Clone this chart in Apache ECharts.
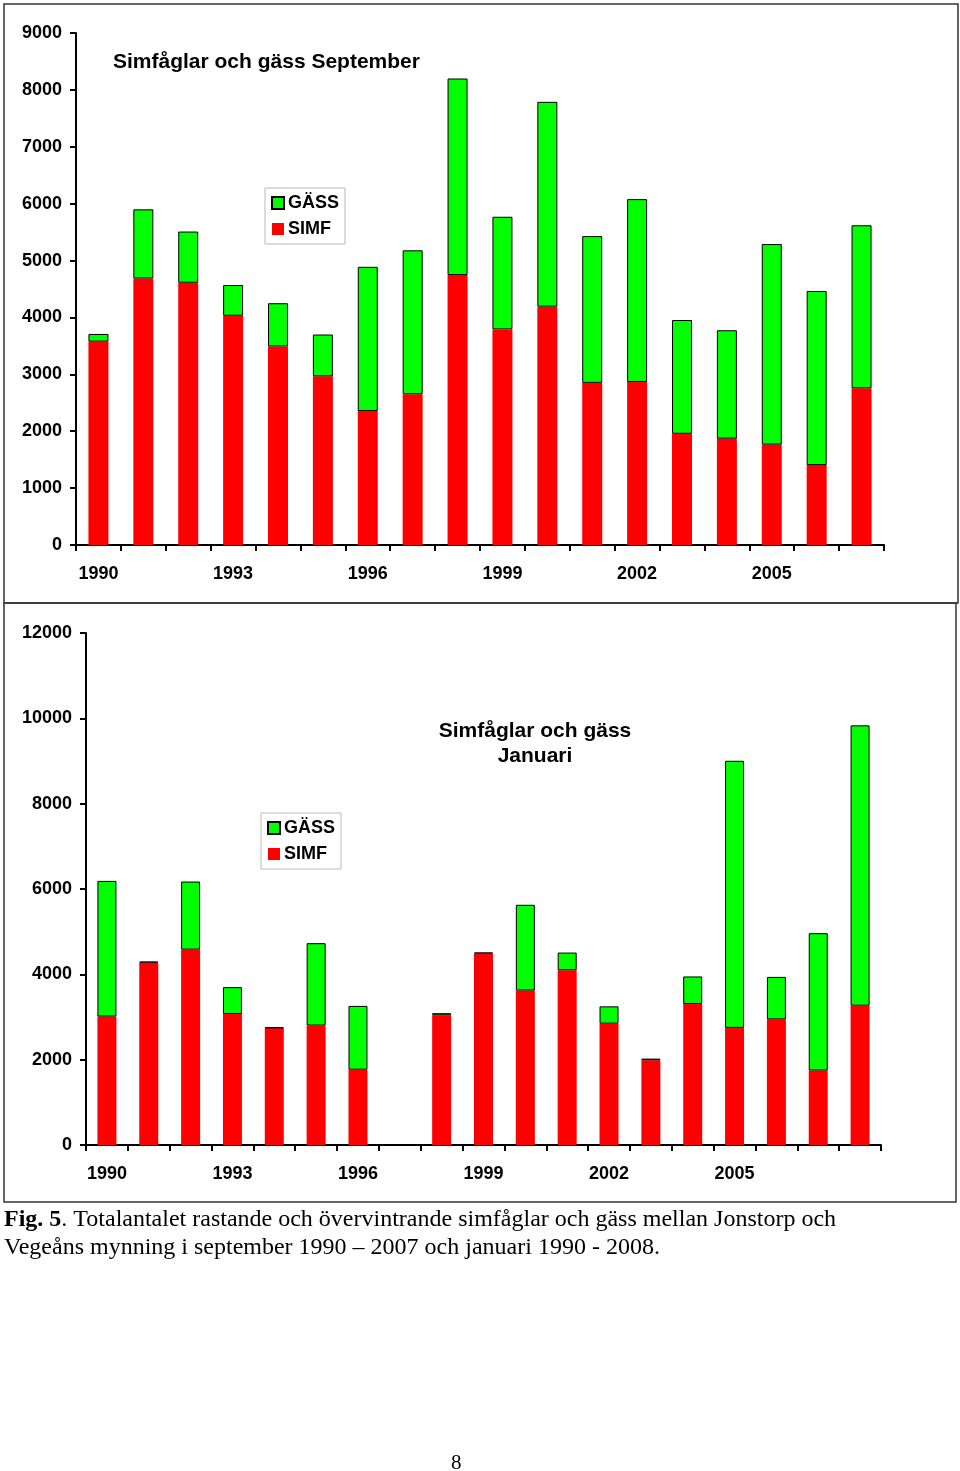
<!DOCTYPE html>
<html>
<head>
<meta charset="utf-8">
<script src="https://cdn.jsdelivr.net/npm/echarts@6/dist/echarts.min.js"></script>
<style>
  html, body { margin: 0; padding: 0; background: #fff; }
  #chart { width: 960px; height: 1471px; }
</style>
</head>
<body>
<div id="chart"></div>
<script>
// ---- September chart data (1990-2007) ----
const septYears = ['1990','1991','1992','1993','1994','1995','1996','1997','1998','1999','2000','2001','2002','2003','2004','2005','2006','2007'];
const septSimf  = [3575,4685,4610,4030,3490,2965,2355,2650,4745,3790,4190,2850,2865,1955,1870,1765,1405,2755];
const septGass  = [135,1215,900,540,760,735,2535,2530,3455,1980,3600,2580,3215,2000,1905,3525,3060,2865];
const septTickLabels = ['1990','1993','1996','1999','2002','2005'];
const septYTicks = [0,1000,2000,3000,4000,5000,6000,7000,8000,9000];

// ---- January chart data (1990-2008) ----
const janYears = ['1990','1991','1992','1993','1994','1995','1996','1997','1998','1999','2000','2001','2002','2003','2004','2005','2006','2007','2008'];
const janSimf  = [3010,4275,4580,3070,2740,2800,1765,null,3040,4490,3620,4095,2845,1985,3305,2745,2945,1745,3265];
const janGass  = [3180,25,1595,630,20,1930,1495,null,50,20,2010,415,405,40,645,6260,995,3220,6570];
const janTickLabels = ['1990','1993','1996','1999','2002','2005'];
const janYTicks = [0,2000,4000,6000,8000,10000,12000];

const FONT = 'Liberation Sans, Arial, sans-serif';
const SERIF = 'Liberation Serif, Times New Roman, serif';
const RED = '#FF0000';
const GREEN = '#00FF00';

function xAxisDef(gridIndex, cats, shown) {
  return {
    type: 'category', gridIndex: gridIndex, data: cats,
    axisLine: { lineStyle: { color: '#000', width: 2 } },
    axisTick: { show: true, alignWithLabel: false, interval: 0, length: 6, lineStyle: { color: '#000', width: 2 } },
    axisLabel: {
      interval: function (idx, val) { return shown.indexOf(val) >= 0; },
      color: '#000', fontFamily: FONT, fontWeight: 'bold', fontSize: 18, margin: 20
    },
    splitLine: { show: false }
  };
}
function yAxisDef(gridIndex, ticks) {
  return {
    type: 'value', gridIndex: gridIndex,
    min: ticks[0], max: ticks[ticks.length - 1], interval: ticks[1] - ticks[0],
    axisLine: { show: true, lineStyle: { color: '#000', width: 2 } },
    axisTick: { show: true, length: 6, lineStyle: { color: '#000', width: 2 } },
    axisLabel: { color: '#000', fontFamily: FONT, fontWeight: 'bold', fontSize: 18, margin: 14,
      formatter: function (v) { return String(v); } },
    splitLine: { show: false }
  };
}
function legendDef(left, top) {
  return {
    orient: 'vertical', left: left, top: top,
    data: ['GÄSS', 'SIMF'],
    icon: 'rect', itemWidth: 12, itemHeight: 12, itemGap: 8,
    padding: [6, 6, 6, 6],
    borderColor: '#bbbbbb', borderWidth: 1, backgroundColor: '#fff',
    textStyle: { color: '#000', fontFamily: FONT, fontWeight: 'bold', fontSize: 18, padding: [0, 0, 0, -1] }
  };
}

const chart = echarts.init(document.getElementById('chart'), null, { renderer: 'canvas' });

const option = {
  animation: false,
  backgroundColor: '#fff',
  title: [
    {
      text: 'Simfåglar och gäss September', left: 113, top: 52, padding: 0,
      textStyle: { color: '#000', fontFamily: FONT, fontWeight: 'bold', fontSize: 21 }
    },
    {
      text: 'Simfåglar och gäss\nJanuari', left: 535, top: 719, padding: 0, textAlign: 'center',
      textStyle: { color: '#000', fontFamily: FONT, fontWeight: 'bold', fontSize: 21, lineHeight: 25, align: 'center' }
    }
  ],
  legend: [ legendDef(265, 188), legendDef(261, 813) ],
  grid: [
    { left: 76, right: 76, top: 33, bottom: 926, containLabel: false },
    { left: 86, right: 79, top: 633, bottom: 326, containLabel: false }
  ],
  xAxis: [ xAxisDef(0, septYears, septTickLabels), xAxisDef(1, janYears, janTickLabels) ],
  yAxis: [ yAxisDef(0, septYTicks), yAxisDef(1, janYTicks) ],
  series: [
    { name: 'SIMF', type: 'bar', stack: 'sept', xAxisIndex: 0, yAxisIndex: 0, data: septSimf, barWidth: 20,
      itemStyle: { color: RED } },
    { name: 'GÄSS', type: 'bar', stack: 'sept', xAxisIndex: 0, yAxisIndex: 0, data: septGass, barWidth: 20,
      itemStyle: { color: GREEN, borderColor: '#000', borderWidth: 1 } },
    { name: 'SIMF', type: 'bar', stack: 'jan', xAxisIndex: 1, yAxisIndex: 1, data: janSimf, barWidth: 19,
      itemStyle: { color: RED } },
    { name: 'GÄSS', type: 'bar', stack: 'jan', xAxisIndex: 1, yAxisIndex: 1, data: janGass, barWidth: 19,
      itemStyle: { color: GREEN, borderColor: '#000', borderWidth: 1 } }
  ],
  graphic: [
    { type: 'rect', shape: { x: 4, y: 4, width: 954, height: 599 }, silent: true, z: -10,
      style: { fill: 'none', stroke: '#333', lineWidth: 1.5 } },
    { type: 'rect', shape: { x: 4, y: 603, width: 952, height: 599 }, silent: true, z: -10,
      style: { fill: 'none', stroke: '#333', lineWidth: 1.5 } },
    { type: 'text', left: 4, top: 1206, silent: true,
      style: {
        text: '{b|Fig. 5}. Totalantalet rastande och övervintrande simfåglar och gäss mellan Jonstorp och\nVegeåns mynning i september 1990 – 2007 och januari 1990 - 2008.',
        fill: '#000', fontFamily: SERIF, fontSize: 24, lineHeight: 28,
        rich: { b: { fontWeight: 'bold', fontFamily: SERIF, fontSize: 24, lineHeight: 28, fill: '#000' } }
      } },
    { type: 'text', left: 451, top: 1453, silent: true,
      style: { text: '8', fill: '#000', fontFamily: SERIF, fontSize: 21 } }
  ]
};
chart.setOption(option);
</script>
</body>
</html>
